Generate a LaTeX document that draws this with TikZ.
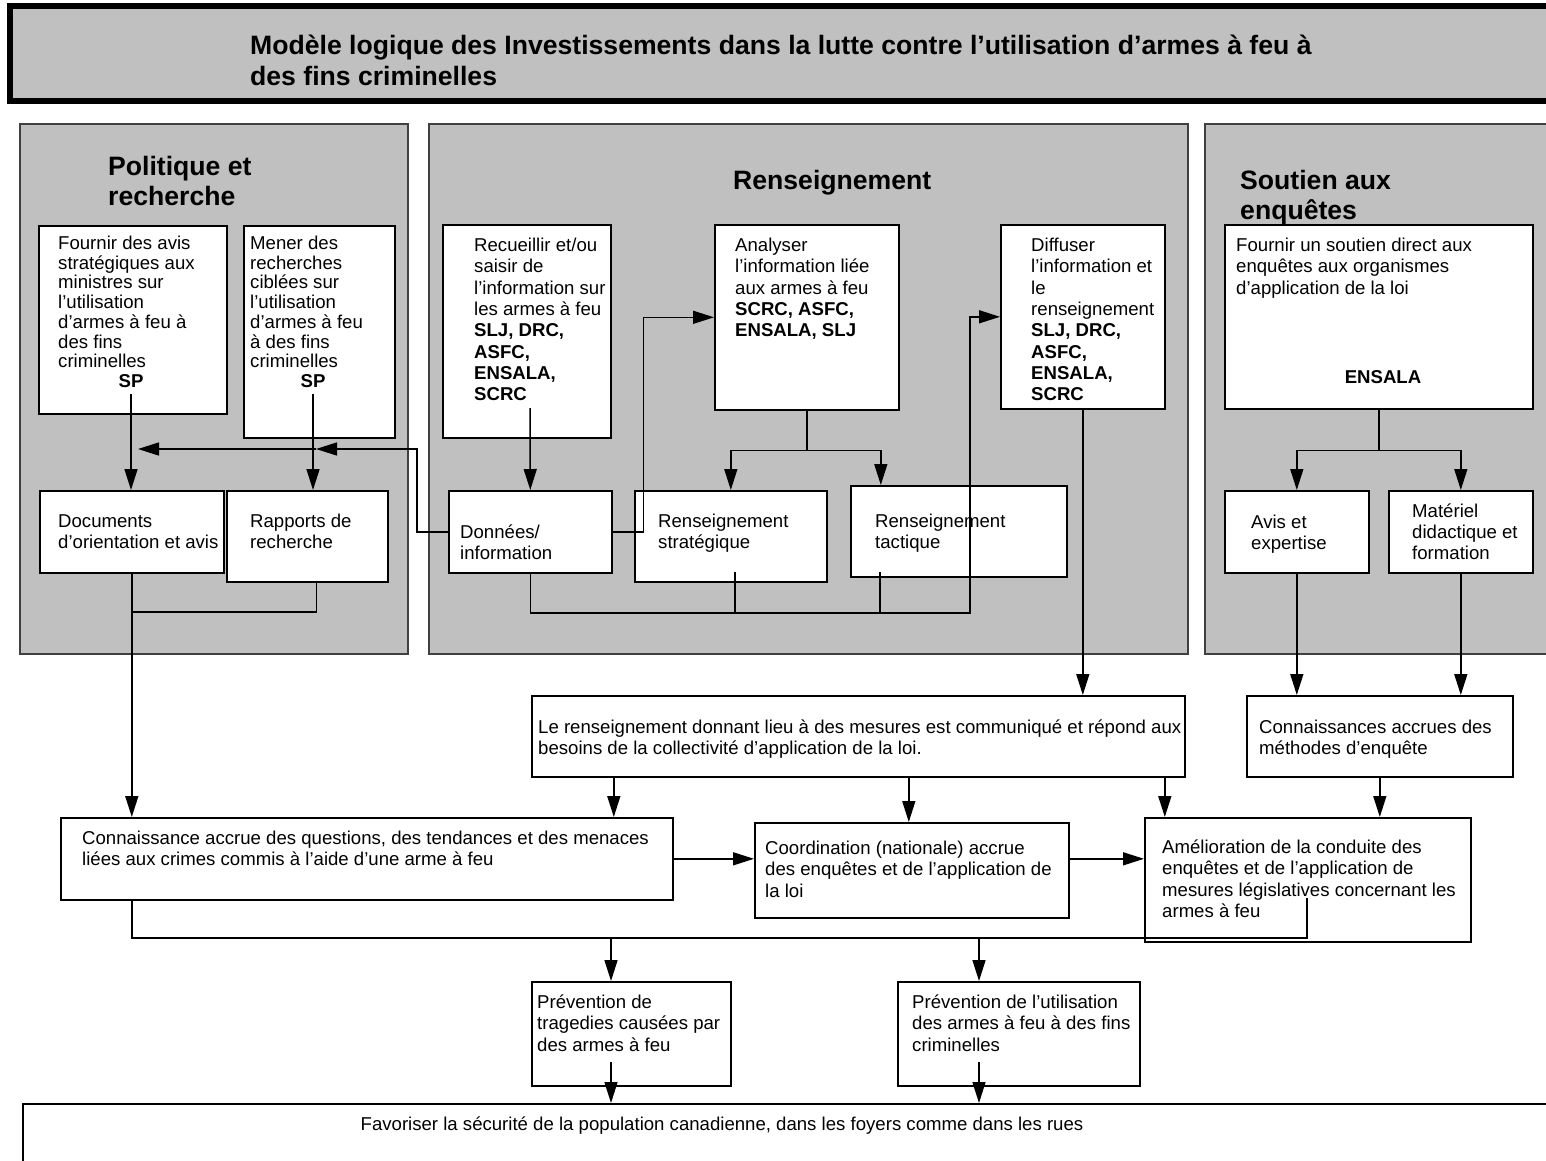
\documentclass[tikz,border=0pt]{standalone}
\usepackage{fontspec}
\setmainfont{Liberation Sans}
\usetikzlibrary{arrows.meta}
\definecolor{panelgray}{RGB}{192,192,192}
\newcommand{\lns}[1]{\parbox[t]{1300pt}{\raggedright #1}}
\begin{document}
\begin{tikzpicture}[x=1pt,y=-1pt,
  panel/.style={fill=panelgray,draw=black!75,line width=1.5pt},
  box/.style={draw=black,fill=white,line width=1.6pt,inner sep=0pt,anchor=north west},
  txt/.style={anchor=base west,inner sep=0pt,font=\fontsize{18.6}{21.3}\selectfont},
  ttxt/.style={anchor=base west,inner sep=0pt,font=\fontsize{18.6}{19.7}\selectfont},
  btxt/.style={anchor=base,inner sep=0pt,font=\bfseries\fontsize{18.6}{21.3}\selectfont},
  head/.style={anchor=base west,inner sep=0pt,font=\bfseries\fontsize{26.6}{30.5}\selectfont},
  conn/.style={line width=1.5pt},
  arr/.style={conn,-{Triangle[length=21pt,width=13pt]}}]
\useasboundingbox (0,0) rectangle (1546,1160);
\fill[white] (0,0) rectangle (1546,1160);

% banner
\draw[line width=5.5pt,fill=panelgray] (10,5.75) rectangle (1560,101);
\node[head,font=\bfseries\fontsize{26.6}{31}\selectfont] (title) at (250,54)
  {\lns{Modèle logique des Investissements dans la lutte contre l'utilisation d'armes à feu à\\des fins criminelles}};

% panels
\node[panel,anchor=north west,minimum width=388pt,minimum height=530pt,inner sep=0pt] (pL) at (19,123) {};
\node[panel,anchor=north west,minimum width=759pt,minimum height=530pt,inner sep=0pt] (pM) at (428,123) {};
\node[panel,anchor=north west,minimum width=360pt,minimum height=530pt,inner sep=0pt] (pR) at (1204,123) {};
\node[head] (hL) at (108,175) {\lns{Politique et\\recherche}};
\node[head] (hM) at (733,189) {Renseignement};
\node[head] (hR) at (1240,189) {\lns{Soutien aux\\enquêtes}};

% boxes
\node[box,minimum width=188pt,minimum height=188pt] (A) at (38,225) {};
\node[box,minimum width=151pt,minimum height=212pt] (B) at (243,225) {};
\node[box,minimum width=184pt,minimum height=82pt] (C) at (39,490) {};
\node[box,minimum width=161pt,minimum height=91pt] (D) at (226,490) {};
\node[box,minimum width=168pt,minimum height=213pt] (E) at (442,224) {};
\node[box,minimum width=184pt,minimum height=185pt] (F) at (714,224) {};
\node[box,minimum width=164pt,minimum height=184pt] (G) at (1000,224) {};
\node[box,minimum width=308pt,minimum height=184pt] (H) at (1224,224) {};
\node[box,minimum width=163pt,minimum height=82pt] (I) at (448,490) {};
\node[box,minimum width=192pt,minimum height=91pt] (J) at (634,490) {};
\node[box,minimum width=216pt,minimum height=91pt] (K) at (850,485) {};
\node[box,minimum width=144pt,minimum height=82pt] (L) at (1224,490) {};
\node[box,minimum width=144pt,minimum height=82pt] (M) at (1388,490) {};
\node[box,minimum width=653pt,minimum height=81pt] (O) at (531,695) {};
\node[box,minimum width=266pt,minimum height=81pt] (N) at (1246,695) {};
\node[box,minimum width=612pt,minimum height=82pt] (P) at (60,817) {};
\node[box,minimum width=314pt,minimum height=95pt] (Q) at (754,822) {};
\node[box,minimum width=326pt,minimum height=124pt] (R) at (1144,817) {};
\node[box,minimum width=199pt,minimum height=104pt] (S) at (531,981) {};
\node[box,minimum width=242pt,minimum height=104pt] (T) at (897,981) {};
\node[box,minimum width=1540pt,minimum height=70pt] (U) at (22,1103) {};

% texts
\node[ttxt] (tA) at (58,249.5) {\lns{Fournir des avis\\stratégiques aux\\ministres sur\\l’utilisation\\d’armes à feu à\\des fins\\criminelles}};
\node[btxt] (SPa) at (131,387.4) {SP};
\node[ttxt] (tB) at (250,249.5) {\lns{Mener des\\recherches\\ciblées sur\\l’utilisation\\d’armes à feu\\à des fins\\criminelles}};
\node[btxt] (SPb) at (313,387.4) {SP};
\node[txt] (tE) at (474,251.5) {\lns{Recueillir et/ou\\saisir de\\l’information sur\\les armes à feu\\\textbf{SLJ, DRC,}\\\textbf{ASFC,}\\\textbf{ENSALA,}\\\textbf{SCRC}}};
\node[txt] (tF) at (735,251.5) {\lns{Analyser\\l’information liée\\aux armes à feu\\\textbf{SCRC, ASFC,}\\\textbf{ENSALA, SLJ}}};
\node[txt] (tG) at (1031,251.5) {\lns{Diffuser\\l’information et\\le\\renseignement\\\textbf{SLJ, DRC,}\\\textbf{ASFC,}\\\textbf{ENSALA,}\\\textbf{SCRC}}};
\node[txt] (tH) at (1236,251.5) {\lns{Fournir un soutien direct aux\\enquêtes aux organismes\\d’application de la loi}};
\node[btxt] (tH2) at (1383,383) {ENSALA};
\node[txt] (tC) at (58,527.5) {\lns{Documents\\d’orientation et avis}};
\node[txt] (tD) at (250,527.5) {\lns{Rapports de\\recherche}};
\node[txt] (tI) at (460,538.5) {\lns{Données/\\information}};
\node[txt] (tJ) at (658,527.5) {\lns{Renseignement\\stratégique}};
\node[txt] (tK) at (875,527.5) {\lns{Renseignement\\tactique}};
\node[txt] (tL) at (1251,528) {\lns{Avis et\\expertise}};
\node[txt] (tM) at (1412,517) {\lns{Matériel\\didactique et\\formation}};
\node[txt] (tO) at (538,733) {\lns{Le renseignement donnant lieu à des mesures est communiqué et répond aux\\besoins de la collectivité d’application de la loi.}};
\node[txt] (tN) at (1259,733) {\lns{Connaissances accrues des\\méthodes d’enquête}};
\node[txt] (tP) at (82,844.5) {\lns{Connaissance accrue des questions, des tendances et des menaces\\liées aux crimes commis à l’aide d’une arme à feu}};
\node[txt] (tQ) at (765,854.5) {\lns{Coordination (nationale) accrue\\des enquêtes et de l’application de\\la loi}};
\node[txt] (tR) at (1162,853.5) {\lns{Amélioration de la conduite des\\enquêtes et de l’application de\\mesures législatives concernant les\\armes à feu}};
\node[txt] (tS) at (537,1008.5) {\lns{Prévention de\\tragedies causées par\\des armes à feu}};
\node[txt] (tT) at (912,1008.5) {\lns{Prévention de l’utilisation\\des armes à feu à des fins\\criminelles}};
\node[txt,anchor=base] (tU) at (722,1130) {Favoriser la sécurité de la population canadienne, dans les foyers comme dans les rues};

% coordinates
\coordinate (jR) at (316,449);
\coordinate (jL) at (138,449);
\coordinate (eS) at (530,408);
\coordinate (cR) at (970,613);
\coordinate (jb) at (735,572);
\coordinate (kb) at (880,572);
\coordinate (dL) at (131,612);
\coordinate (cB) at (1307,938);
\coordinate (s1) at (611,938);
\coordinate (t1) at (979,938);
\coordinate (s2) at (611,1062);
\coordinate (t2) at (979,1062);
\path ([xshift=-244.5pt]O.south) coordinate (o1)
      ([xshift=50.5pt]O.south) coordinate (o2)
      ([xshift=306.5pt]O.south) coordinate (o3);

% connectors: left panel
\draw[arr] ([yshift=-6pt]SPa.south) -- (SPa.south |- C.north);
\draw[arr] ([yshift=-6pt]SPb.south) -- (SPb.south |- D.north);
\draw[arr] (I.west) -- ++(-31,0) |- (jR);
\draw[arr] (jR) -- (jL);
\draw[arr] (C.south) -- (C.south |- P.north);
\draw[conn] ([xshift=9pt]D.south) |- (dL);

% middle panel
\draw[arr] (eS) -- (I.north);
\draw[arr] (I.east) -- ++(31,0) |- (F.west);
\draw[conn] (F.south) -- ++(0,40) coordinate (fs);
\draw[arr] (fs) -| (J.north);
\draw[arr] (fs) -| ([xshift=-78pt]K.north);
\draw[arr] (I.south) |- (cR) |- (G.west);
\draw[conn] (jb) -- (jb |- cR);
\draw[conn] (kb) -- (kb |- cR);
\draw[arr] (G.south) -- (G.south |- O.north);

% right panel
\draw[conn] (H.south) -- ++(0,41) coordinate (hs);
\draw[arr] (hs) -| (L.north);
\draw[arr] (hs) -| (M.north);
\draw[arr] (L.south) -- (L.south |- N.north);
\draw[arr] (M.south) -- (M.south |- N.north);

% outcomes
\draw[arr] (o1) -- (o1 |- P.north);
\draw[arr] (o2) -- (o2 |- Q.north);
\draw[arr] (o3) -- (o3 |- R.north);
\draw[arr] (N.south) -- (N.south |- R.north);
\draw[arr] (P.east) -- (P.east -| Q.west);
\draw[arr] (P.east -| Q.east) -- (P.east -| R.west);
\draw[conn] (C.south |- P.south) |- (cB) -- ++(0,-40);
\draw[arr] (s1) -- (s1 |- S.north);
\draw[arr] (t1) -- (t1 |- T.north);
\draw[arr] (s2) -- (s2 |- U.north);
\draw[arr] (t2) -- (t2 |- U.north);
\end{tikzpicture}
\end{document}
